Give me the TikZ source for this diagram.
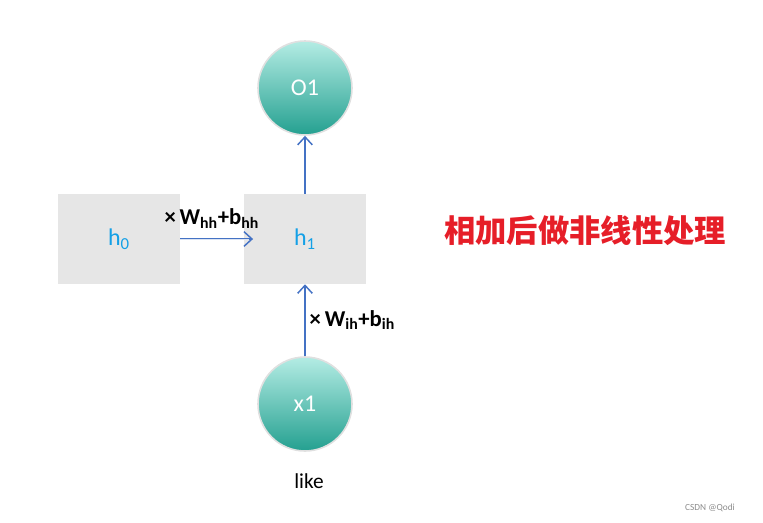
\documentclass[tikz,border=0pt]{standalone}
\usepackage{fontspec}
\setmainfont{Carlito}
\newfontfamily\cjk{Noto Sans CJK SC}
\usetikzlibrary{arrows.meta}
\definecolor{tealtop}{RGB}{180,236,228}
\definecolor{tealmid}{RGB}{44,192,176}
\definecolor{tealbot}{RGB}{36,160,144}
\definecolor{linkblue}{RGB}{68,114,196}
\definecolor{hblue}{RGB}{20,160,230}
\definecolor{boxgray}{RGB}{230,230,230}
\definecolor{notered}{RGB}{230,30,40}
\begin{document}
\begin{tikzpicture}[x=0.75pt, y=-0.75pt,
        unit/.style={circle, minimum size=70.5pt, draw=black!12, line width=1.2pt,
            top color=tealtop, middle color=tealmid, bottom color=tealbot,
            text=white, font=\fontsize{18}{20}\selectfont},
        state/.style={rectangle, fill=boxgray, minimum width=91.5pt, minimum height=67.5pt,
            text=hblue, font=\fontsize{18}{20}\selectfont},
        link/.style={draw=linkblue, line width=1.1pt, -{Straight Barb[length=6pt, width=11pt]}},
        weight/.style={font=\bfseries\fontsize{17}{19}\selectfont, inner sep=1pt}]
    \useasboundingbox (0,0) rectangle (763,522);
    % units
    \node[unit] (o1) at (305,88) {O1};
    \node[unit] (x1) at (305,404) {x1};
    % hidden states
    \node[state] (h0) at (119,239) {h\textsubscript{0}};
    \node[state] (h1) at (305,239) {h\textsubscript{1}};
    % connections
    \draw[link] (h1.north) -- (o1.south);
    \draw[link] (x1.north) -- node[right, xshift=2pt, black, weight] {×\,W\textsubscript{ih}+b\textsubscript{ih}} (h1.south);
    \coordinate (hend) at ([xshift=7pt]h1.west);
    \draw[linkblue, line width=2.2pt] (h0.east) -- ([xshift=-2pt]hend)
        node[pos=0.45, above, yshift=6pt, black, weight] {×\,W\textsubscript{hh}+b\textsubscript{hh}};
    \draw[linkblue!20, line width=0.7pt] (h0.east) -- ([xshift=-3pt]hend);
    \draw[link] ([xshift=-3pt]hend) -- (hend);
    \node[font=\fontsize{16}{18}\selectfont] (word) at (309,481) {like};
    \node[text=notered, font=\cjk\bfseries\fontsize{23.5}{26}\selectfont] (note) at (585,231) {相加后做非线性处理};
    \node[text=black!45, font=\fontsize{7}{8}\selectfont] (mark) at (710,508) {CSDN @Qodi};
\end{tikzpicture}
\end{document}
